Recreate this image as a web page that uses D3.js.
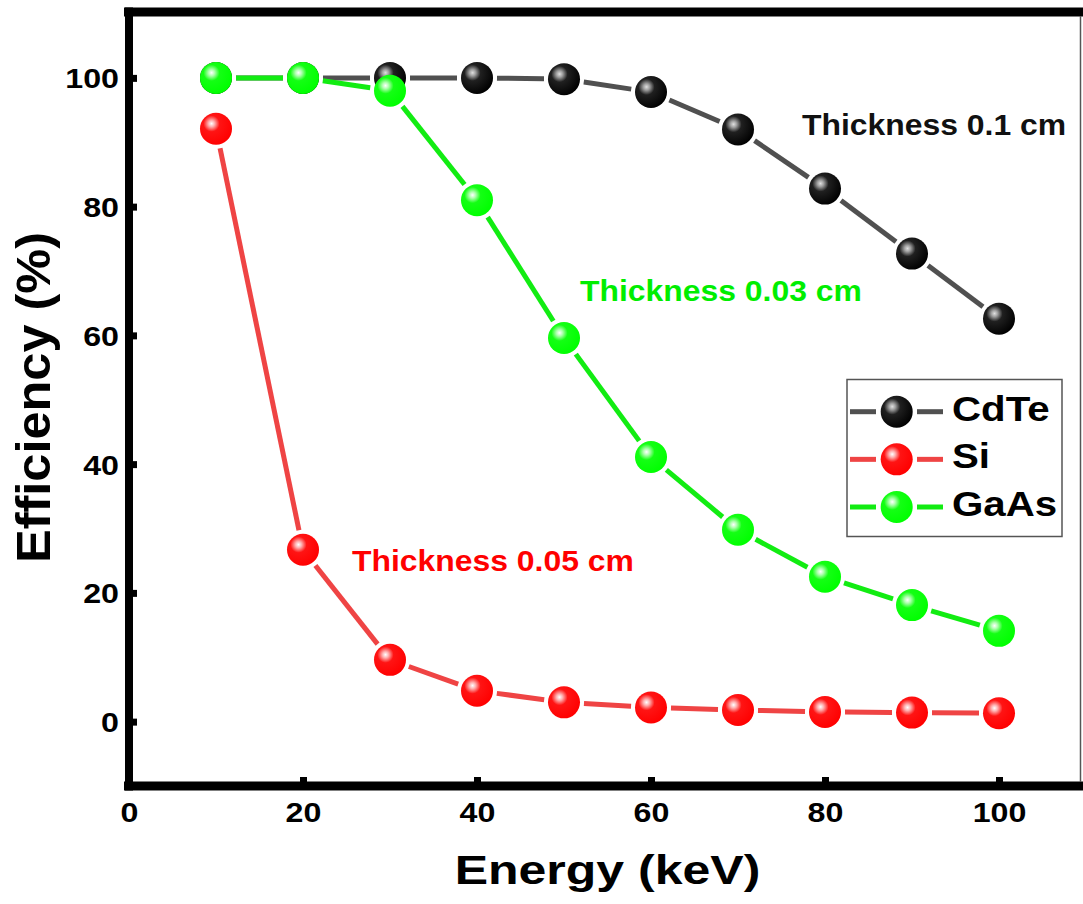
<!DOCTYPE html>
<html>
<head>
<meta charset="utf-8">
<script src="https://cdn.jsdelivr.net/npm/d3@7/dist/d3.min.js"></script>
<style>
  html, body { margin: 0; padding: 0; background: #fff; }
  svg { display: block; }
  text { font-family: "Liberation Sans", Arial, sans-serif; font-weight: bold; }
</style>
</head>
<body>
<svg id="chart" width="1083" height="904"></svg>
<script>
// Photon energy (keV)
const energy = [10, 20, 30, 40, 50, 60, 70, 80, 90, 100];
// Detection efficiency (%) per detector material
const cdte = [100, 100, 100, 100, 99.8, 97.8, 92.0, 82.8, 72.7, 62.6];
const si   = [92.1, 26.7, 9.6, 4.8, 3.0, 2.2, 1.8, 1.5, 1.4, 1.3];
const gaas = [100, 100, 98.0, 81.0, 59.6, 41.1, 29.8, 22.5, 18.1, 14.1];

const seriesNames = ["CdTe", "Si", "GaAs"];
const xTicks = [0, 20, 40, 60, 80, 100];
const yTicks = [0, 20, 40, 60, 80, 100];
const annotations = ["Thickness 0.1 cm", "Thickness 0.03 cm", "Thickness 0.05 cm"];

const svg = d3.select("#chart");
const x = d3.scaleLinear().domain([0, 110]).range([129, 1086]);
const y = d3.scaleLinear().domain([-10, 110]).range([786, 13.5]);

const styles = {
  CdTe: { line: "#505050", grad: "gBlack", stops: [[0, "#e0e0e0"], [0.14, "#a0a0a0"], [0.36, "#202020"], [1, "#000"]] },
  Si:   { line: "#ef4444", grad: "gRed",   stops: [[0, "#ffffff"], [0.14, "#ffb0b0"], [0.36, "#ff1414"], [1, "#ff0000"]] },
  GaAs: { line: "#12ec12", grad: "gGreen", stops: [[0, "#ffffff"], [0.14, "#b0ffb0"], [0.36, "#14ff14"], [1, "#00ff00"]] }
};

const defs = svg.append("defs");
Object.values(styles).forEach(s => {
  const g = defs.append("radialGradient").attr("id", s.grad)
    .attr("cx", "0.36").attr("cy", "0.34").attr("fx", "0.36").attr("fy", "0.34").attr("r", "0.7");
  s.stops.forEach(([o, c]) => g.append("stop").attr("offset", o).attr("stop-color", c));
});

// Axes with inward ticks
const xAxis = d3.axisBottom(x).tickValues(xTicks).tickSize(-9).tickFormat(d3.format("d"));
const yAxis = d3.axisLeft(y).tickValues(yTicks).tickSize(-8).tickFormat(d3.format("d"));

const gx = svg.append("g").attr("transform", "translate(0,786)").call(xAxis);
const gy = svg.append("g").attr("transform", "translate(129,0)").call(yAxis);
[gx, gy].forEach(g => {
  g.select(".domain").remove();
  g.selectAll(".tick line").attr("stroke", "#000").attr("stroke-width", 7);
  g.selectAll(".tick text").attr("fill", "#000").attr("font-size", 28);
});
gx.selectAll(".tick text").attr("y", 0).attr("dy", 0)
  .attr("transform", "translate(0,36) scale(1.15,1)");
gy.selectAll(".tick text").attr("x", 0).attr("dy", 0)
  .attr("transform", "translate(-10,10) scale(1.15,1)");

// Frame
const frame = svg.append("g").attr("stroke", "#000").attr("stroke-width", 9);
frame.append("line").attr("x1", 124).attr("x2", 1090).attr("y1", 12).attr("y2", 12);
frame.append("line").attr("x1", 124).attr("x2", 1090).attr("y1", 786).attr("y2", 786);
frame.append("line").attr("x1", 129).attr("x2", 129).attr("y1", 7.5).attr("y2", 790.5).attr("stroke-width", 8);
svg.append("line").attr("x1", 1080.5).attr("x2", 1080.5).attr("y1", 16).attr("y2", 782)
  .attr("stroke", "#555").attr("stroke-width", 1.5);

// Series: straight segments broken just short of each marker
const R = 16, GAP = 4;
function drawSeries(name, values) {
  const s = styles[name];
  const pts = energy.map((e, i) => [x(e), y(values[i])]);
  const segs = d3.pairs(pts).map(([a, b]) => {
    const dx = b[0] - a[0], dy = b[1] - a[1], L = Math.hypot(dx, dy);
    const k = (R + GAP) / L;
    return [a[0] + dx * k, a[1] + dy * k, b[0] - dx * k, b[1] - dy * k, L];
  }).filter(d => d[4] > 2 * (R + GAP));
  const g = svg.append("g");
  g.selectAll("line").data(segs).join("line")
    .attr("x1", d => d[0]).attr("y1", d => d[1]).attr("x2", d => d[2]).attr("y2", d => d[3])
    .attr("stroke", s.line).attr("stroke-width", 5);
  g.selectAll("circle").data(pts).join("circle")
    .attr("cx", d => d[0]).attr("cy", d => d[1]).attr("r", R)
    .attr("fill", `url(#${s.grad})`);
}
drawSeries("CdTe", cdte);
drawSeries("Si", si);
drawSeries("GaAs", gaas);

// Annotations
function scaledText(txt, px, py, size, sx, color, anchor) {
  svg.append("text").attr("transform", `translate(${px},${py}) scale(${sx},1)`)
    .attr("font-size", size).attr("fill", color).attr("text-anchor", anchor || "start").text(txt);
}
scaledText(annotations[0], 802, 135, 29, 1.1, "#111");
scaledText(annotations[1], 580, 301, 29, 1.1, "#00ee00");
scaledText(annotations[2], 352, 571, 29, 1.1, "#ff0000");

// Legend
const lg = svg.append("g");
lg.append("rect").attr("x", 847).attr("y", 379.5).attr("width", 215).attr("height", 157)
  .attr("fill", "#fff").attr("stroke", "#555").attr("stroke-width", 1.5);
const legendRows = d3.scalePoint().domain(seriesNames).range([411.7, 507]);
seriesNames.forEach(n => {
  const cy = legendRows(n), s = styles[n];
  lg.append("line").attr("x1", 850).attr("x2", 876).attr("y1", cy).attr("y2", cy)
    .attr("stroke", s.line).attr("stroke-width", 5);
  lg.append("line").attr("x1", 917).attr("x2", 943).attr("y1", cy).attr("y2", cy)
    .attr("stroke", s.line).attr("stroke-width", 5);
  lg.append("circle").attr("cx", 896.7).attr("cy", cy).attr("r", R).attr("fill", `url(#${s.grad})`);
  lg.append("text").attr("transform", `translate(952,${cy + 9}) scale(1.15,1)`)
    .attr("font-size", 35).attr("fill", "#000").text(n);
});

// Axis titles
scaledText("Energy (keV)", 607.5, 884, 41, 1.22, "#000", "middle");
svg.append("text").attr("transform", "translate(50,397.5) rotate(-90) scale(1.03,1)")
  .attr("font-size", 49).attr("fill", "#000").attr("text-anchor", "middle").text("Efficiency (%)");
</script>
</body>
</html>
